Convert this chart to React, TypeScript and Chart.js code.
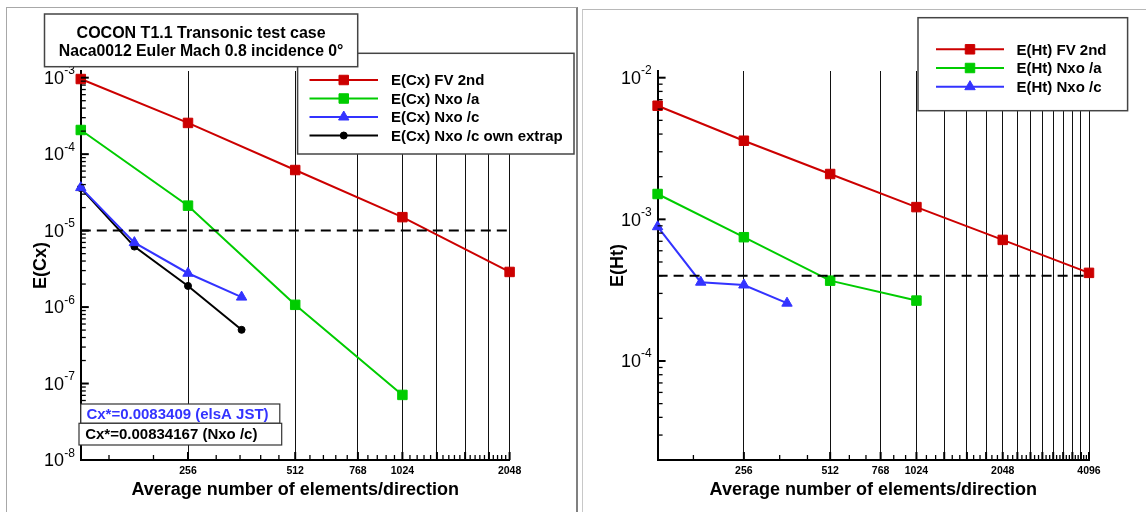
import React, { useEffect, useRef } from 'react';
import { Chart, registerables } from 'chart.js';

Chart.register(...registerables);

const FONT = '"Liberation Sans", Arial, Helvetica, sans-serif';

// ---------- Left panel data: E(Cx) ----------
const cxFvMesh = [128, 256, 512, 1024, 2048];
const cxFv = [9.6e-4, 2.56e-4, 6.2e-5, 1.5e-5, 2.88e-6];
const cxNxoAMesh = [128, 256, 512, 1024];
const cxNxoA = [2.07e-4, 2.12e-5, 1.07e-6, 7.1e-8];
const cxNxoCMesh = [128, 181, 256, 362];
const cxNxoC = [3.65e-5, 6.97e-6, 2.77e-6, 1.35e-6];
const cxNxoCOwn = [3.6e-5, 6.18e-6, 1.89e-6, 5.04e-7];
const cxThresholdX = [128, 2048];
const cxThreshold = [1e-5, 1e-5];
const cxXTickLabels = [256, 512, 768, 1024, 2048];
const cxYDecades = [-8, -7, -6, -5, -4, -3];

// ---------- Right panel data: E(Ht) ----------
const htFvMesh = [128, 256, 512, 1024, 2048, 4096];
const htFv = [6.34e-3, 3.59e-3, 2.09e-3, 1.22e-3, 7.16e-4, 4.19e-4];
const htNxoAMesh = [128, 256, 512, 1024];
const htNxoA = [1.51e-3, 7.48e-4, 3.69e-4, 2.67e-4];
const htNxoCMesh = [128, 181, 256, 362];
const htNxoC = [8.87e-4, 3.6e-4, 3.44e-4, 2.56e-4];
const htThresholdX = [128, 4096];
const htThreshold = [4e-4, 4e-4];
const htXTickLabels = [256, 512, 768, 1024, 2048, 4096];
const htYDecades = [-4, -3, -2];

const RED = '#cc0000';
const GREEN = '#00cc00';
const BLUE = '#3333ff';
const BLACK = '#000000';

type Marker = 'rect' | 'triangle' | 'circle';

interface SeriesSpec {
  label: string;
  xs: number[];
  ys: number[];
  color: string;
  marker: Marker | null;
  radius: number;
  dash?: number[];
}

interface PanelSpec {
  left: number;
  width: number;
  height: number;
  area: { left: number; right: number; top: number; bottom: number };
  xMin: number;
  xMax: number;
  yMin: number;
  yMax: number;
  gridStep: number;
  minorStep: number;
  xLabels: number[];
  yDecades: number[];
  yTitle: string;
  xTitle: string;
  series: SeriesSpec[];
  legend: {
    x: number; y: number; w: number; h: number;
    rows: number[]; lineX0: number; lineX1: number; textX: number; font: string;
  };
  titleBox?: { x: number; y: number; w: number; h: number; lines: { text: string; font: string; base: number }[] };
  notes?: { x: number; y: number; w: number; h: number; text: string; color: string; tx: number; base: number }[];
}

const pts = (xs: number[], ys: number[]) => xs.map((x, i) => ({ x, y: ys[i] }));

function drawMarker(ctx: CanvasRenderingContext2D, m: Marker, x: number, y: number, r: number, color: string) {
  ctx.save();
  ctx.fillStyle = color;
  ctx.strokeStyle = color;
  ctx.lineWidth = 1;
  ctx.beginPath();
  if (m === 'rect') {
    const s = r * Math.SQRT1_2;
    ctx.rect(x - s, y - s, 2 * s, 2 * s);
  } else if (m === 'triangle') {
    for (let i = 0; i < 3; i++) {
      const a = (i * 2 * Math.PI) / 3;
      const px = x + Math.sin(a) * r;
      const py = y - Math.cos(a) * r;
      if (i === 0) ctx.moveTo(px, py); else ctx.lineTo(px, py);
    }
    ctx.closePath();
  } else {
    ctx.arc(x, y, r, 0, Math.PI * 2);
  }
  ctx.fill();
  ctx.stroke();
  ctx.restore();
}

function makePlugin(spec: PanelSpec) {
  return {
    id: 'panelDecor',
    afterDraw(chart: any) {
      const ctx: CanvasRenderingContext2D = chart.ctx;
      const xs = chart.scales.x;
      const ys = chart.scales.y;
      const a = chart.chartArea;
      ctx.save();
      ctx.strokeStyle = '#000';
      ctx.fillStyle = '#000';

      // x ticks (inward)
      for (let v = spec.minorStep; v < spec.xMax + 1e-6; v += spec.minorStep) {
        if (v <= spec.xMin + 1e-6) continue;
        const isMajor = Math.abs(v / spec.gridStep - Math.round(v / spec.gridStep)) < 1e-6;
        const px = xs.getPixelForValue(v);
        ctx.lineWidth = isMajor ? 2 : 1.3;
        ctx.beginPath();
        ctx.moveTo(px, a.bottom);
        ctx.lineTo(px, a.bottom - (isMajor ? 8 : 5));
        ctx.stroke();
      }
      // y ticks (inward)
      const d0 = Math.floor(Math.log10(spec.yMin)) - 1;
      const d1 = Math.ceil(Math.log10(spec.yMax)) + 1;
      for (let d = d0; d <= d1; d++) {
        for (let k = 1; k <= 9; k++) {
          const v = k * Math.pow(10, d);
          if (v < spec.yMin * 0.999 || v > spec.yMax) continue;
          const py = ys.getPixelForValue(v);
          ctx.lineWidth = k === 1 ? 2 : 1.3;
          ctx.beginPath();
          ctx.moveTo(a.left, py);
          ctx.lineTo(a.left + (k === 1 ? 8 : 5), py);
          ctx.stroke();
        }
      }
      // y labels 10^n
      for (const d of spec.yDecades) {
        const py = ys.getPixelForValue(Math.pow(10, d));
        const sup = String(d);
        ctx.font = `12px ${FONT}`;
        const sw = ctx.measureText(sup).width;
        ctx.font = `18px ${FONT}`;
        const bw = ctx.measureText('10').width;
        const right = a.left - 6;
        ctx.textAlign = 'left';
        ctx.textBaseline = 'alphabetic';
        ctx.fillText('10', right - sw - bw, py + 6.3);
        ctx.font = `12px ${FONT}`;
        ctx.fillText(sup, right - sw, py - 3.5);
      }
      // x labels
      ctx.font = `bold 10.5px ${FONT}`;
      ctx.textAlign = 'center';
      for (const v of spec.xLabels) {
        ctx.fillText(String(v), xs.getPixelForValue(v), 473.5);
      }
      // axis titles
      ctx.font = `bold 18px ${FONT}`;
      ctx.fillText(spec.xTitle, (a.left + a.right) / 2, 494.5);
      ctx.save();
      ctx.translate(a.left - 35, (a.top + a.bottom) / 2);
      ctx.rotate(-Math.PI / 2);
      ctx.fillText(spec.yTitle, 0, 0);
      ctx.restore();

      // legend
      const L = spec.legend;
      ctx.fillStyle = '#fff';
      ctx.fillRect(L.x, L.y, L.w, L.h);
      ctx.strokeStyle = '#444';
      ctx.lineWidth = 1.5;
      ctx.strokeRect(L.x, L.y, L.w, L.h);
      const named = spec.series.filter((s) => s.label);
      named.forEach((s, i) => {
        const ry = L.rows[i];
        ctx.strokeStyle = s.color;
        ctx.lineWidth = 2;
        ctx.beginPath();
        ctx.moveTo(L.lineX0, ry);
        ctx.lineTo(L.lineX1, ry);
        ctx.stroke();
        if (s.marker) drawMarker(ctx, s.marker, (L.lineX0 + L.lineX1) / 2, ry, s.radius, s.color);
        ctx.fillStyle = '#000';
        ctx.font = L.font;
        ctx.textAlign = 'left';
        ctx.fillText(s.label, L.textX, ry + 5.4);
      });

      // title box
      if (spec.titleBox) {
        const T = spec.titleBox;
        ctx.fillStyle = '#fff';
        ctx.fillRect(T.x, T.y, T.w, T.h);
        ctx.strokeStyle = '#444';
        ctx.lineWidth = 1.5;
        ctx.strokeRect(T.x, T.y, T.w, T.h);
        ctx.fillStyle = '#000';
        ctx.textAlign = 'center';
        for (const ln of T.lines) {
          ctx.font = ln.font;
          ctx.fillText(ln.text, T.x + T.w / 2, ln.base);
        }
      }
      // notes
      if (spec.notes) {
        for (const n of spec.notes) {
          ctx.fillStyle = '#fff';
          ctx.fillRect(n.x, n.y, n.w, n.h);
          ctx.strokeStyle = '#333';
          ctx.lineWidth = 1.2;
          ctx.strokeRect(n.x, n.y, n.w, n.h);
          ctx.fillStyle = n.color;
          ctx.font = `bold 15px ${FONT}`;
          ctx.textAlign = 'left';
          ctx.fillText(n.text, n.tx, n.base);
        }
      }
      ctx.restore();
    },
  };
}

function buildConfig(spec: PanelSpec): any {
  const datasets = spec.series.map((s) => ({
    label: s.label,
    data: pts(s.xs, s.ys),
    showLine: true,
    borderColor: s.color,
    backgroundColor: s.color,
    borderWidth: 2,
    borderDash: s.dash || [],
    pointStyle: s.marker || 'circle',
    pointRadius: s.marker ? s.radius : 0,
    pointHoverRadius: s.marker ? s.radius : 0,
    pointBorderWidth: 1,
    pointBackgroundColor: s.color,
    pointBorderColor: s.color,
    tension: 0,
    clip: false,
  }));
  const gridValues: number[] = [];
  for (let v = spec.gridStep; v <= spec.xMax + 1e-6; v += spec.gridStep) gridValues.push(v);
  return {
    type: 'scatter',
    data: { datasets },
    plugins: [makePlugin(spec)],
    options: {
      responsive: false,
      animation: false,
      devicePixelRatio: 1,
      layout: {
        padding: { left: 0, top: spec.area.top, right: spec.width - spec.area.right, bottom: 0 },
      },
      plugins: { legend: { display: false }, tooltip: { enabled: false }, title: { display: false } },
      scales: {
        x: {
          type: 'logarithmic',
          position: 'bottom',
          min: spec.xMin,
          max: spec.xMax,
          afterBuildTicks: (sc: any) => {
            sc.ticks = gridValues.map((v) => ({ value: v }));
          },
          afterFit: (sc: any) => {
            sc.height = spec.height - spec.area.bottom;
          },
          ticks: { display: false, autoSkip: false },
          grid: { display: true, color: '#111', lineWidth: 1, drawTicks: false, drawOnChartArea: true },
          border: { display: true, color: '#000', width: 2 },
        },
        y: {
          type: 'logarithmic',
          position: 'left',
          min: spec.yMin,
          max: spec.yMax,
          afterFit: (sc: any) => {
            sc.width = spec.area.left;
          },
          ticks: { display: false },
          grid: { display: false },
          border: { display: true, color: '#000', width: 2 },
        },
      },
    },
  };
}

const leftSpec: PanelSpec = {
  left: 0,
  width: 580,
  height: 512,
  area: { left: 80.8, right: 509.6, top: 71, bottom: 460 },
  xMin: 128,
  xMax: 2048,
  yMin: 1e-8,
  yMax: 1.223e-3,
  gridStep: 256,
  minorStep: 51.2,
  xLabels: cxXTickLabels,
  yDecades: cxYDecades,
  yTitle: 'E(Cx)',
  xTitle: 'Average number of elements/direction',
  series: [
    { label: '', xs: cxThresholdX, ys: cxThreshold, color: BLACK, marker: null, radius: 0, dash: [10, 6] },
    { label: 'E(Cx) FV 2nd', xs: cxFvMesh, ys: cxFv, color: RED, marker: 'rect', radius: 6.7 },
    { label: 'E(Cx) Nxo /a', xs: cxNxoAMesh, ys: cxNxoA, color: GREEN, marker: 'rect', radius: 6.7 },
    { label: 'E(Cx) Nxo /c', xs: cxNxoCMesh, ys: cxNxoC, color: BLUE, marker: 'triangle', radius: 6 },
    { label: 'E(Cx) Nxo /c own extrap', xs: cxNxoCMesh, ys: cxNxoCOwn, color: BLACK, marker: 'circle', radius: 3.5 },
  ],
  legend: {
    x: 297.6, y: 53.3, w: 276.4, h: 100.7,
    rows: [80, 98.5, 117, 135.5], lineX0: 309.5, lineX1: 378, textX: 391, font: `bold 15px ${FONT}`,
  },
  titleBox: {
    x: 44.5, y: 14, w: 313.2, h: 52.7,
    lines: [
      { text: 'COCON T1.1 Transonic test case', font: `bold 16px ${FONT}`, base: 38.3 },
      { text: 'Naca0012 Euler Mach 0.8 incidence 0°', font: `bold 15.8px ${FONT}`, base: 56 },
    ],
  },
  notes: [
    { x: 80.8, y: 404, w: 199, h: 19.3, text: 'Cx*=0.0083409 (elsA JST)', color: BLUE, tx: 86.4, base: 419 },
    { x: 79, y: 423.3, w: 202.7, h: 21.7, text: 'Cx*=0.00834167 (Nxo /c)', color: BLACK, tx: 85.2, base: 439 },
  ],
};

const rightSpec: PanelSpec = {
  left: 580,
  width: 566,
  height: 512,
  area: { left: 77.6, right: 509, top: 71, bottom: 460 },
  xMin: 128,
  xMax: 4096,
  yMin: 2e-5,
  yMax: 1.115e-2,
  gridStep: 256,
  minorStep: 256 / 3,
  xLabels: htXTickLabels,
  yDecades: htYDecades,
  yTitle: 'E(Ht)',
  xTitle: 'Average number of elements/direction',
  series: [
    { label: '', xs: htThresholdX, ys: htThreshold, color: BLACK, marker: null, radius: 0, dash: [10, 6] },
    { label: 'E(Ht) FV 2nd', xs: htFvMesh, ys: htFv, color: RED, marker: 'rect', radius: 6.7 },
    { label: 'E(Ht) Nxo /a', xs: htNxoAMesh, ys: htNxoA, color: GREEN, marker: 'rect', radius: 6.7 },
    { label: 'E(Ht) Nxo /c', xs: htNxoCMesh, ys: htNxoC, color: BLUE, marker: 'triangle', radius: 6 },
  ],
  legend: {
    x: 338, y: 17.7, w: 209.6, h: 93,
    rows: [49.3, 68, 86.7], lineX0: 356, lineX1: 424, textX: 436.5, font: `bold 15px ${FONT}`,
  },
};

function Panel({ spec }: { spec: PanelSpec }) {
  const ref = useRef<HTMLCanvasElement>(null);
  useEffect(() => {
    if (!ref.current) return;
    const chart = new Chart(ref.current, buildConfig(spec));
    return () => chart.destroy();
  }, [spec]);
  return (
    <canvas
      ref={ref}
      width={spec.width}
      height={spec.height}
      style={{ position: 'absolute', left: spec.left, top: 0, width: spec.width, height: spec.height }}
    />
  );
}

export default function App() {
  return (
    <div
      style={{
        position: 'fixed',
        left: 0,
        top: 0,
        width: 1146,
        height: 512,
        background: '#fff',
        overflow: 'hidden',
      }}
    >
      <div
        style={{
          position: 'absolute',
          left: 6,
          top: 7,
          width: 569,
          height: 600,
          borderLeft: '1.5px solid #a8a8a8',
          borderTop: '1.5px solid #a8a8a8',
          borderRight: '2px solid #808080',
        }}
      />
      <div
        style={{
          position: 'absolute',
          left: 582,
          top: 8.5,
          width: 600,
          height: 600,
          borderLeft: '1.5px solid #c8c8c8',
          borderTop: '1.5px solid #b8b8b8',
        }}
      />
      <Panel spec={leftSpec} />
      <Panel spec={rightSpec} />
    </div>
  );
}
